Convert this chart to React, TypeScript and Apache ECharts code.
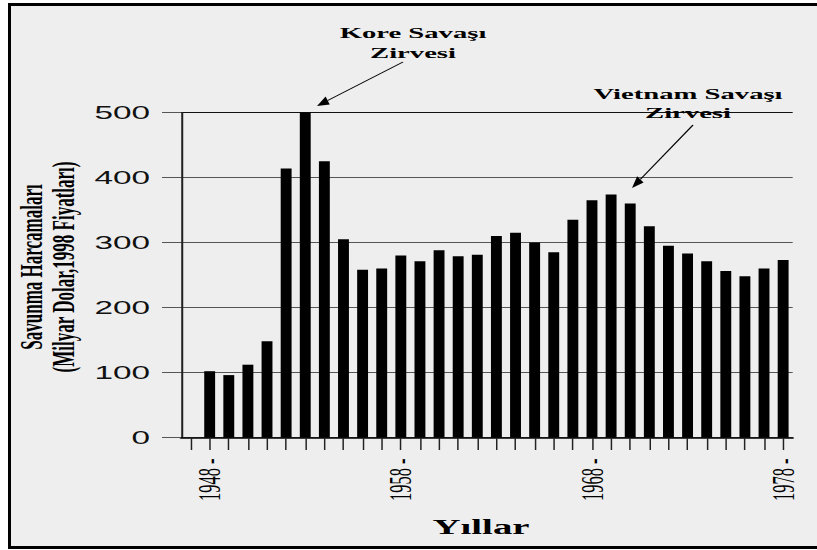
import React, { useEffect, useRef } from "react";
import * as echarts from "echarts";

// ---- data ----
const years = [
  "1947", "1948", "1949", "1950", "1951", "1952", "1953", "1954", "1955", "1956", "1957",
  "1958", "1959", "1960", "1961", "1962", "1963", "1964", "1965", "1966", "1967",
  "1968", "1969", "1970", "1971", "1972", "1973", "1974", "1975", "1976", "1977", "1978",
];
const spending = [
  null, 102, 96, 112, 148, 414, 500, 425, 305, 258, 260,
  280, 271, 288, 279, 281, 310, 315, 300, 285, 335,
  365, 374, 360, 325, 295, 283, 271, 256, 248, 260, 273,
];
const labeledYears = ["1948", "1958", "1968", "1978"];
const yMin = 0;
const yMax = 500;
const yStep = 100;
const xTitle = "Yıllar";
const yTitleLines = ["Savunma Harcamaları", "(Milyar Dolar,1998 Fiyatları)"];
const koreaNote = ["Kore Savaşı", "Zirvesi"];
const vietnamNote = ["Vietnam Savaşı", "Zirvesi"];

// ---- layout (the picture is horizontally stretched) ----
const S = 1.85;
const W = 817;
const H = 550;
const CW = W / S;
const sx = (x: number) => x / S;

function arrow(x1: number, y1: number, x2: number, y2: number) {
  const ang = Math.atan2(y2 - y1, x2 - x1);
  const L = 12;
  const hw = 4.5;
  const bx = x2 - L * Math.cos(ang);
  const by = y2 - L * Math.sin(ang);
  const px = -Math.sin(ang);
  const py = Math.cos(ang);
  return [
    {
      type: "line",
      z: 100,
      shape: { x1: sx(x1), y1, x2: sx(bx), y2: by },
      style: { stroke: "#000", lineWidth: 0.8 },
    },
    {
      type: "polygon",
      z: 100,
      shape: {
        points: [
          [sx(x2), y2],
          [sx(bx + px * hw), by + py * hw],
          [sx(bx - px * hw), by - py * hw],
        ],
      },
      style: { fill: "#000" },
    },
  ];
}

export default function App() {
  const ref = useRef<HTMLDivElement>(null);

  useEffect(() => {
    if (!ref.current) return;
    const chart = echarts.init(ref.current, null, { renderer: "svg" });
    const serif = "'Liberation Serif', 'Times New Roman', serif";
    const sans = "'Liberation Sans', Arial, sans-serif";
    chart.setOption({
      animation: false,
      backgroundColor: "transparent",
      grid: {
        left: sx(181),
        right: CW - sx(792),
        top: 112.5,
        bottom: H - 437.5,
        containLabel: false,
      },
      xAxis: {
        type: "category",
        data: years,
        boundaryGap: true,
        axisLine: { show: true, lineStyle: { color: "#000", width: 1.5 } },
        axisTick: {
          show: true,
          alignWithLabel: true,
          interval: 0,
          length: 12.5,
          lineStyle: { color: "#222", width: 0.8 },
        },
        axisLabel: {
          interval: (_i: number, v: string) => labeledYears.includes(v),
          rotate: 90,
          formatter: (v: string) => v + " -",
          fontFamily: serif,
          fontSize: 16.5,
          color: "#000",
          margin: 21,
        },
        splitLine: { show: false },
      },
      yAxis: {
        type: "value",
        min: yMin,
        max: yMax,
        interval: yStep,
        axisLine: { show: true, lineStyle: { color: "#222", width: 1.1 } },
        axisTick: { show: true, length: sx(19), lineStyle: { color: "#555", width: 1 } },
        splitLine: {
          show: true,
          lineStyle: { color: ["#555", "#555", "#555", "#555", "#555", "#111"], width: 1 },
        },
        axisLabel: {
          fontFamily: sans,
          fontSize: 18,
          color: "#111",
          margin: sx(31),
        },
      },
      series: [
        {
          type: "bar",
          data: spending,
          barWidth: "57%",
          itemStyle: { color: "#000" },
        },
      ],
      graphic: [
        {
          type: "text",
          z: 100,
          x: sx(47),
          y: 267,
          rotation: Math.PI / 2,
          style: {
            text: yTitleLines.join("\n"),
            font: `bold 17px ${serif}`,
            fill: "#000",
            textAlign: "center",
            textVerticalAlign: "middle",
            lineHeight: 17,
          },
        },
        {
          type: "text",
          z: 100,
          x: sx(481),
          y: 527,
          style: {
            text: xTitle,
            font: `bold 21px ${serif}`,
            fill: "#000",
            textAlign: "center",
            textVerticalAlign: "middle",
          },
        },
        {
          type: "text",
          z: 100,
          x: sx(413),
          y: 23,
          style: {
            text: koreaNote.join("\n"),
            font: `bold 15.5px ${serif}`,
            fill: "#000",
            textAlign: "center",
            textVerticalAlign: "top",
            lineHeight: 20,
          },
        },
        {
          type: "text",
          z: 100,
          x: sx(688),
          y: 84,
          style: {
            text: vietnamNote.join("\n"),
            font: `bold 15.5px ${serif}`,
            fill: "#000",
            textAlign: "center",
            textVerticalAlign: "top",
            lineHeight: 19,
          },
        },
        ...arrow(403, 62, 317, 106),
        ...arrow(693, 125, 632, 188),
      ],
    });
    return () => chart.dispose();
  }, []);

  return (
    <div
      style={{
        position: "fixed",
        left: 0,
        top: 0,
        width: W,
        height: H,
        background: "#fff",
        overflow: "hidden",
      }}
    >
      <div
        style={{
          position: "absolute",
          left: 8,
          top: 3,
          width: 840,
          height: 546,
          boxSizing: "border-box",
          border: "3px solid #000",
          background: "#eeeeee",
        }}
      />
      <div
        ref={ref}
        style={{
          position: "absolute",
          left: 0,
          top: 0,
          width: CW,
          height: H,
          transform: `scaleX(${S})`,
          transformOrigin: "0 0",
        }}
      />
    </div>
  );
}
